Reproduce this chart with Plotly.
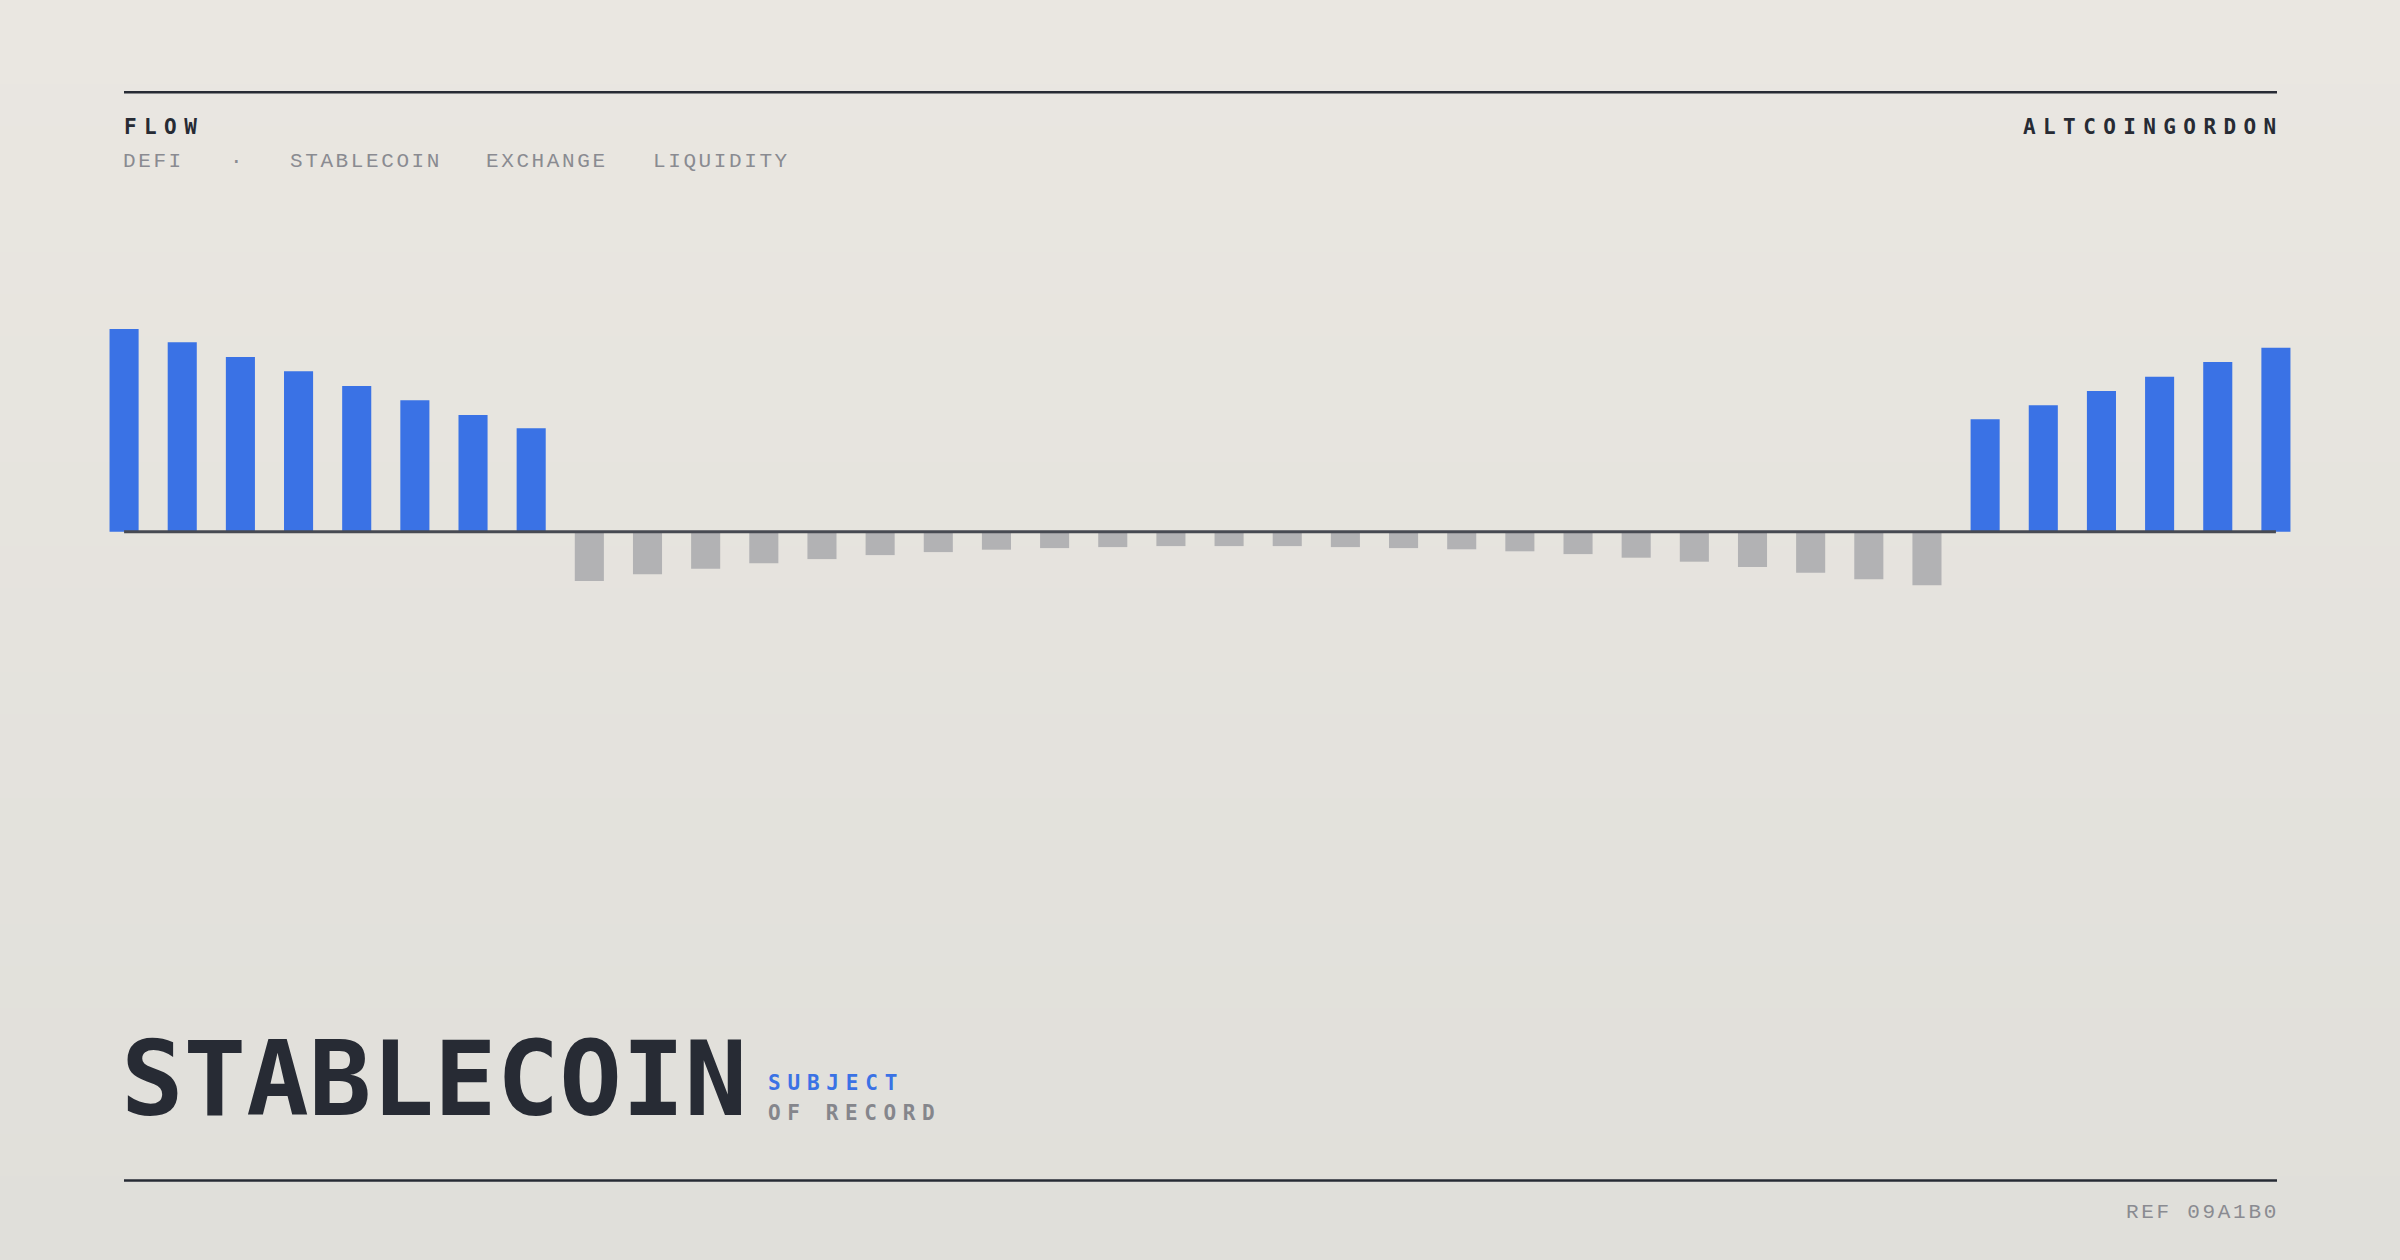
import plotly.graph_objects as go

# ---------------- data ----------------
periods = list(range(1, 39))
inflow_early = [101.4, 94.7, 87.4, 80.2, 72.9, 65.7, 58.4, 51.7]
outflow_mid = [-24.7, -21.3, -18.5, -15.8, -13.7, -11.7, -10.2, -9.0, -8.2, -7.7, -7.2, -7.2,
               -7.2, -7.7, -8.2, -8.8, -9.8, -11.2, -13.0, -15.0, -17.7, -20.5, -23.8, -26.8]
inflow_late = [56.2, 63.2, 70.4, 77.5, 84.9, 92.0]
flows = inflow_early + outflow_mid + inflow_late

kicker = "FLOW"
tags = ["DEFI", "\u00b7", "STABLECOIN", "EXCHANGE", "LIQUIDITY"]
brand = "ALTCOINGORDON"
headline = "STABLECOIN"
sub1 = "SUBJECT"
sub2 = "OF RECORD"
ref = "REF 09A1B0"

# ---------------- style ----------------
W, H = 2400, 1260
ML, MR, MT, MB = 95, 95, 300, 660
PW, PH = W - ML - MR, H - MT - MB
DARK = "#272B34"
BLUE = "#3A72E5"
GRAYBAR = "#B2B2B4"
GRAYTXT = "#85868C"
LIGHTTXT = "#8A8B91"
MONO = "DejaVu Sans Mono"
LIGHT = "Liberation Mono"


def xp(px):
    return (px - ML) / PW


def yp(py):
    return (H - MB - py) / PH


colors = [BLUE if v > 0 else GRAYBAR for v in flows]

fig = go.Figure(go.Bar(
    x=periods, y=flows, width=0.5,
    marker=dict(color=colors, line=dict(width=0)),
    hoverinfo="x+y",
))

# background gradient
shapes = []
top = (234, 231, 225)
bot = (224, 223, 218)
N = 30
for i in range(N):
    t = i / (N - 1)
    c = tuple(round(top[k] + (bot[k] - top[k]) * t) for k in range(3))
    shapes.append(dict(type="rect", xref="paper", yref="paper",
                       x0=xp(0), x1=xp(W), y0=yp(H * i / N), y1=yp(H * (i + 1) / N + 1),
                       fillcolor="rgb(%d,%d,%d)" % c, line=dict(width=0), layer="below"))

# rules
shapes.append(dict(type="line", xref="paper", yref="paper", x0=xp(124), x1=xp(2277),
                   y0=yp(92.3), y1=yp(92.3), line=dict(color=DARK, width=2.5)))
shapes.append(dict(type="line", xref="paper", yref="paper", x0=xp(124), x1=xp(2277),
                   y0=yp(1180.5), y1=yp(1180.5), line=dict(color=DARK, width=2.5)))
# baseline
shapes.append(dict(type="line", xref="x", yref="y", x0=periods[0], x1=periods[-1],
                   y0=0, y1=0, line=dict(color="#474A52", width=3), layer="above"))


def label(text, px, py, size, color, family, weight=400, ls=0, anchor="left"):
    t = '<span style="letter-spacing:%spx">%s</span>' % (ls, text) if ls else text
    return dict(text=t, x=xp(px), y=yp(py), xref="paper", yref="paper",
                xanchor=anchor, yanchor="middle", showarrow=False, borderpad=0,
                font=dict(family=family, size=size, color=color, weight=weight))


ann = []
ann.append(label(kicker, 123, 127, 21, DARK, MONO, 700, 7.4))
ann.append(label(brand, 2285, 127, 21, DARK, MONO, 700, 7.4, anchor="right"))
tag_x = [122, 229, 289, 485, 652]
for txt, x in zip(tags, tag_x):
    ann.append(label(txt, x, 161.5, 21, LIGHTTXT, LIGHT, 400, 2.6))
ann.append(label(headline, 120, 1079, 104, DARK, MONO, 700))
ann.append(label(sub1, 767, 1082.5, 21, BLUE, MONO, 700, 6.8))
ann.append(label(sub2, 767, 1113, 21, GRAYTXT, MONO, 700, 6.6))
ann.append(label(ref, 2280, 1212.5, 21, LIGHTTXT, LIGHT, 400, 2.7, anchor="right"))

fig.update_layout(
    width=W, height=H,
    margin=dict(l=ML, r=MR, t=MT, b=MB),
    paper_bgcolor="#E6E4DE", plot_bgcolor="rgba(0,0,0,0)",
    showlegend=False,
    xaxis=dict(range=[0.5, 38.5], visible=False, fixedrange=True),
    yaxis=dict(range=[-(H - MB - 531.7) / 2, (531.7 - MT) / 2], visible=False, fixedrange=True),
    shapes=shapes, annotations=ann,
)

fig.write_html("out.html", config={"displayModeBar": False},
               post_script="document.body.style.margin='0';document.body.style.overflow='hidden';")
